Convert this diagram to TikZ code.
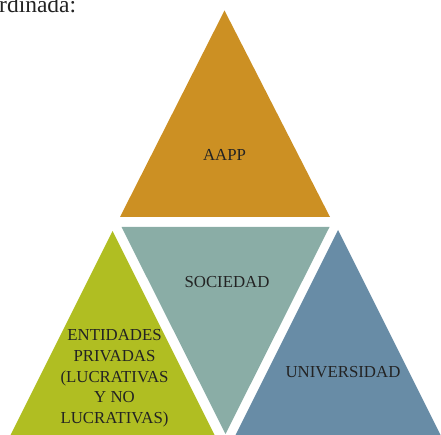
\documentclass[tikz,border=0pt]{standalone}
\usepackage{fontspec}
\setmainfont{Liberation Serif}
\usetikzlibrary{
    calc,
    positioning
}
\definecolor{ocre}{RGB}{204,144,35}
\definecolor{oliva}{RGB}{176,190,34}
\definecolor{gristeal}{RGB}{138,173,166}
\definecolor{azulgris}{RGB}{104,140,166}
\definecolor{tinta}{RGB}{35,35,35}
\tikzset{
  every node/.style={
    text=tinta,
    inner sep=1pt,
    font=\fontsize{16.8}{20.7}\selectfont
  },
  etiqueta/.style={
    align=center
  }
}

\begin{document}
\begin{tikzpicture}[x=1pt,y=-1pt]
    \useasboundingbox (0,0) rectangle (441,435);
    \clip (0,0) rectangle (441,435);

    % texto del párrafo
    \node[anchor=base west,inner sep=0pt,font=\fontsize{23.5}{28}\selectfont] (parrafo) at (-1,12.5) {rdinada:};

    % triángulos
    \fill[ocre] (224.5,10.5) -- (330,217) -- (120,217) -- cycle;
    \fill[oliva] (112.5,231) -- (215,436) -- (10,436) -- cycle;
    \fill[gristeal] (121.5,227) -- (329.5,227) -- (225.5,434) -- cycle;
    \fill[azulgris] (338,230) -- (441,436) -- (235,436) -- cycle;

    % etiquetas
    \node[etiqueta] (aapp) at (224.5,155) {AAPP};
    \node[etiqueta] (sociedad) at (227,282) {SOCIEDAD};
    \node[etiqueta] (universidad) at (343,372) {UNIVERSIDAD};
    \node[etiqueta] (entidades) at (114.5,378.5)
        {ENTIDADES\\PRIVADAS\\(LUCRATIVAS\\Y NO\\LUCRATIVAS)};
\end{tikzpicture}
\end{document}
